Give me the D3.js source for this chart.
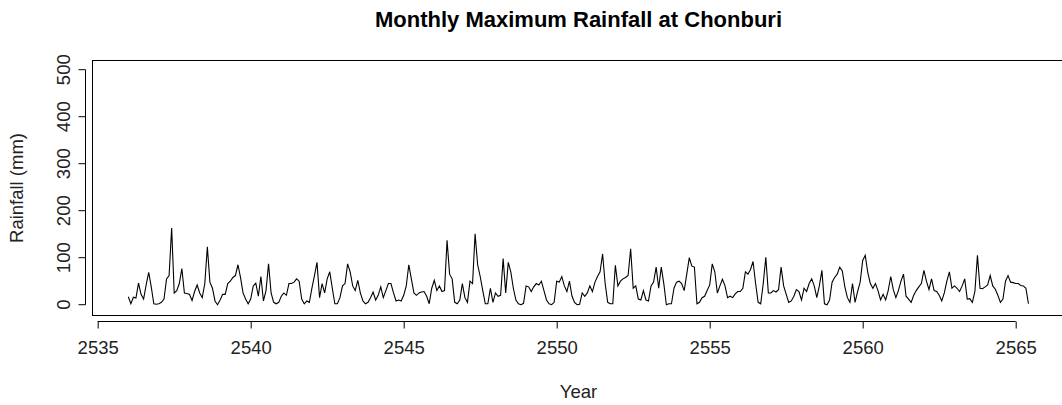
<!DOCTYPE html>
<html>
<head>
<meta charset="utf-8">
<script src="https://cdn.jsdelivr.net/npm/d3@7"></script>
<style>
  html, body { margin: 0; padding: 0; background: #fff; }
  svg { display: block; font-family: "Liberation Sans", Arial, Helvetica, sans-serif; }
</style>
</head>
<body>
<script>
// Monthly maximum rainfall (mm), Chonburi, starting January 2536 (B.E.)
const startYear = 2536;
const rainfall = [
  17, 2, 16, 14, 46, 22, 12, 42, 69, 38, 2, 1,
  2, 5, 12, 55, 62, 163, 25, 30, 45, 77, 25, 24,
  22, 9, 28, 42, 25, 15, 45, 123, 48, 35, 8, 0,
  10, 22, 22, 45, 50, 58, 62, 85, 58, 25, 12, 2,
  12, 40, 46, 18, 60, 8, 30, 87, 25, 5, 2, 5,
  18, 25, 20, 45, 45, 48, 55, 50, 12, 2, 8, 5,
  35, 62, 90, 15, 45, 25, 55, 70, 35, 2, 2, 15,
  40, 45, 87, 70, 40, 30, 52, 25, 8, 2, 5, 15,
  27, 10, 20, 38, 15, 30, 45, 45, 25, 8, 10, 8,
  20, 40, 85, 55, 25, 20, 25, 27, 28, 18, 2, 35,
  52, 30, 40, 28, 30, 137, 65, 55, 5, 2, 10, 45,
  15, 5, 50, 45, 151, 85, 60, 30, 2, 2, 35, 5,
  25, 18, 20, 98, 25, 90, 70, 35, 10, 2, 0, 3,
  40, 38, 28, 38, 45, 42, 50, 30, 10, 2, 0, 5,
  50, 48, 60, 40, 28, 50, 18, 5, 0, 1, 25, 18,
  25, 40, 28, 48, 60, 70, 108, 45, 5, 2, 2, 84,
  40, 50, 55, 58, 62, 119, 35, 40, 12, 10, 30, 10,
  8, 40, 48, 80, 35, 80, 45, 0, 2, 2, 35, 48,
  50, 45, 30, 65, 100, 82, 80, 2, 5, 15, 18, 30,
  42, 87, 70, 25, 40, 54, 40, 15, 18, 15, 23, 28,
  28, 35, 70, 65, 75, 92, 45, 5, 2, 45, 101, 25,
  25, 30, 27, 32, 80, 40, 22, 5, 8, 18, 32, 28,
  10, 35, 28, 45, 55, 40, 15, 40, 73, 2, 0, 10,
  48, 58, 65, 80, 72, 38, 15, 5, 45, 5, 28, 48,
  94, 105, 68, 45, 35, 45, 30, 10, 22, 10, 30, 60,
  32, 15, 30, 50, 65, 18, 12, 5, 20, 30, 38, 45,
  73, 50, 32, 55, 30, 28, 20, 8, 25, 50, 70, 35,
  40, 35, 28, 40, 55, 12, 13, 5, 28, 105, 35, 34,
  38, 42, 62, 40, 33, 20, 5, 12, 50, 62, 48, 47,
  45, 45, 41, 40, 35, 2
];
const xTicks = [2535, 2540, 2545, 2550, 2555, 2560, 2565];
const yTicks = [0, 100, 200, 300, 400, 500];

const W = 1062, H = 405;
const labelSize = 18.5;
const svg = d3.select("body").append("svg")
  .attr("width", W).attr("height", H);

const data = rainfall.map((v, i) => ({ t: startYear + i / 12, v }));

const x = d3.scaleLinear().domain([2535, 2565]).range([97.7, 1015.7]);
const y = d3.scaleLinear().domain([0, 500]).range([304.7, 69.7]);

// plot frame
const box = { left: 92.5, top: 60.5, right: 1064.5, bottom: 315.5 };
svg.append("rect")
  .attr("x", box.left).attr("y", box.top)
  .attr("width", box.right - box.left).attr("height", box.bottom - box.top)
  .attr("fill", "none").attr("stroke", "#000").attr("stroke-width", 1);

// x axis
const xAxis = svg.append("g")
  .attr("transform", `translate(0,${box.bottom + 6})`)
  .call(d3.axisBottom(x).tickValues(xTicks).tickSize(7).tickPadding(12).tickFormat(d3.format("d")));
xAxis.select(".domain").attr("d", `M${x(2535)},0H${x(2565)}`);
xAxis.selectAll("text").attr("font-size", labelSize).attr("fill", "#222");

// y axis
const yAxis = svg.append("g")
  .attr("transform", `translate(${box.left - 7},0)`)
  .call(d3.axisLeft(y).tickValues(yTicks).tickSize(7).tickPadding(0));
yAxis.select(".domain").attr("d", `M0,${y(0)}V${y(500)}`);
yAxis.selectAll("text")
  .attr("font-size", labelSize).attr("fill", "#222")
  .attr("text-anchor", "middle")
  .attr("dy", 0)
  .attr("transform", d => `translate(-16,${y(d)}) rotate(-90)`)
  .attr("x", 0).attr("y", 0);
yAxis.selectAll(".tick").attr("transform", null);
yAxis.selectAll(".tick line").attr("transform", d => `translate(0,${y(d)})`);

// series line
svg.append("path")
  .datum(data)
  .attr("fill", "none")
  .attr("stroke", "#000")
  .attr("stroke-width", 1.1)
  .attr("d", d3.line().x(d => x(d.t)).y(d => y(d.v)));

// title and axis titles
const cx = (box.left + box.right) / 2;
svg.append("text")
  .attr("x", cx).attr("y", 27)
  .attr("text-anchor", "middle")
  .attr("font-size", 22).attr("font-weight", "bold")
  .text("Monthly Maximum Rainfall at Chonburi");
svg.append("text")
  .attr("x", cx).attr("y", 398)
  .attr("text-anchor", "middle")
  .attr("font-size", labelSize).attr("fill", "#222")
  .text("Year");
svg.append("text")
  .attr("transform", `translate(23,${(box.top + box.bottom) / 2}) rotate(-90)`)
  .attr("text-anchor", "middle")
  .attr("font-size", labelSize).attr("fill", "#222")
  .text("Rainfall (mm)");
</script>
</body>
</html>
